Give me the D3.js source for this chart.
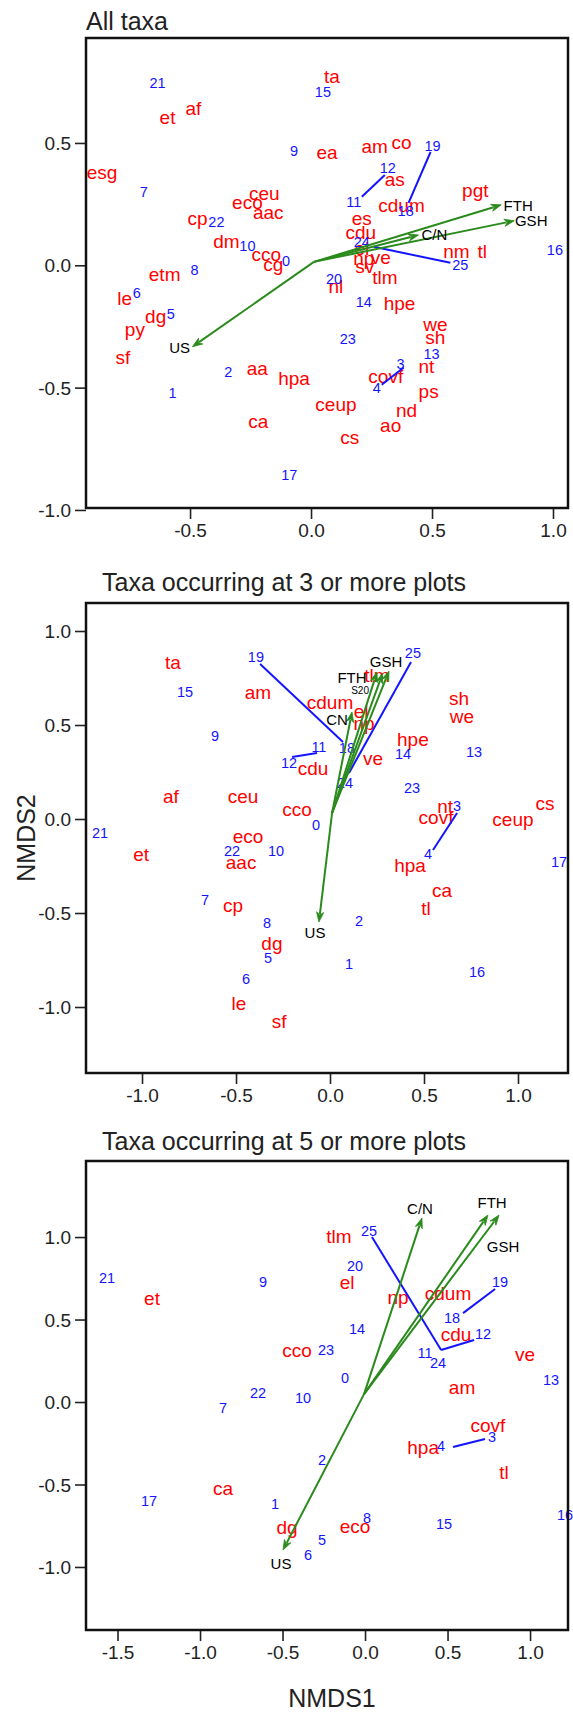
<!DOCTYPE html>
<html><head><meta charset="utf-8">
<script src="https://cdn.jsdelivr.net/npm/d3@7"></script>
<style>body{margin:0;background:#fff}svg{display:block}text{font-family:"Liberation Sans",Arial,sans-serif}</style>
</head><body><svg id="c" width="573" height="1712"></svg>
<script>
// ---------- Panel 1: All taxa ----------
const p1SpNames = ["ta","et","af","esg","ea","am","co","as","pgt","ceu","eco","aac","cp","cdum","es","cdu","dm","cco","cg","el","np","ve","sv","nm","tl","etm","nl","tlm","le","dg","py","sf","hpe","we","sh","nt","aa","hpa","covf","ps","ceup","nd","ca","ao","cs"];
const p1SpX = [0.086,-0.593,-0.486,-0.864,0.066,0.263,0.374,0.346,0.679,-0.193,-0.263,-0.177,-0.469,0.374,0.21,0.206,-0.35,-0.185,-0.156,0.21,0.218,0.288,0.222,0.601,0.708,-0.605,0.103,0.305,-0.77,-0.642,-0.728,-0.778,0.366,0.514,0.514,0.477,-0.222,-0.07,0.309,0.486,0.103,0.395,-0.218,0.329,0.16];
const p1SpY = [0.773,0.606,0.643,0.378,0.463,0.488,0.504,0.353,0.308,0.296,0.259,0.218,0.19,0.247,0.19,0.133,0.096,0.043,0.002,0.07,0.03,0.034,-0.006,0.055,0.055,-0.035,-0.087,-0.051,-0.137,-0.21,-0.263,-0.378,-0.157,-0.243,-0.296,-0.414,-0.422,-0.463,-0.455,-0.516,-0.569,-0.594,-0.639,-0.655,-0.704];
const p1SiteNames = ["21","15","9","19","12","7","11","18","22","10","0","24","8","16","25","20","6","5","14","23","13","3","2","1","4","17"];
const p1SiteX = [-0.634,0.049,-0.07,0.502,0.317,-0.691,0.177,0.391,-0.391,-0.263,-0.103,0.21,-0.481,1.008,0.617,0.095,-0.72,-0.58,0.218,0.152,0.498,0.37,-0.342,-0.572,0.272,-0.09];
const p1SiteY = [0.745,0.708,0.467,0.488,0.398,0.30,0.259,0.222,0.177,0.08,0.018,0.096,-0.018,0.063,0.002,-0.055,-0.112,-0.198,-0.149,-0.3,-0.361,-0.402,-0.435,-0.52,-0.5,-0.855];
const p1Links = [[0.21,0.28,0.305,0.369],[0.494,0.463,0.403,0.255],[0.259,0.076,0.576,0.01],[0.292,-0.488,0.383,-0.418]];
const p1VecNames = ["FTH","GSH","C/N","US"];
const p1VecX = [0.786,0.84,0.444,-0.49];
const p1VecY = [0.247,0.182,0.124,-0.333];
const p1VecLabX = [0.856,0.91,0.51,-0.543];
const p1VecLabY = [0.243,0.182,0.124,-0.337];
const p1Origin = [0.012,0.014];
const p1TicksX = [-0.5,0,0.5,1.0];
const p1TicksY = [-1.0,-0.5,0,0.5];

// ---------- Panel 2: Taxa occurring at 3 or more plots ----------
const p2SpNames = ["ta","am","cdum","tlm","el","np","sh","we","hpe","ve","cdu","af","ceu","cco","nt","covf","ceup","cs","eco","et","aac","hpa","ca","tl","cp","dg","le","sf"];
const p2SpX = [-0.835,-0.383,0.0,0.25,0.165,0.181,0.686,0.702,0.441,0.229,-0.09,-0.846,-0.463,-0.176,0.612,0.564,0.973,1.144,-0.436,-1.005,-0.473,0.426,0.596,0.511,-0.516,-0.309,-0.484,-0.271];
const p2SpY = [0.835,0.676,0.622,0.766,0.574,0.51,0.644,0.548,0.426,0.324,0.271,0.122,0.122,0.053,0.069,0.011,0.0,0.085,-0.09,-0.186,-0.229,-0.245,-0.378,-0.473,-0.457,-0.66,-0.979,-1.074];
const p2SiteNames = ["19","25","15","9","12","11","18","14","13","24","23","3","0","21","22","10","4","17","7","8","2","5","1","16","6"];
const p2SiteX = [-0.394,0.441,-0.771,-0.612,-0.218,-0.059,0.09,0.388,0.766,0.08,0.436,0.676,-0.074,-1.223,-0.521,-0.287,0.521,1.218,-0.665,-0.335,0.154,-0.33,0.101,0.782,-0.447];
const p2SiteY = [0.862,0.883,0.676,0.441,0.298,0.383,0.378,0.346,0.356,0.191,0.165,0.069,-0.032,-0.074,-0.17,-0.17,-0.186,-0.229,-0.431,-0.553,-0.543,-0.739,-0.771,-0.814,-0.851];
const p2Links = [[-0.372,0.824,0.069,0.41],[0.431,0.835,0.101,0.245],[-0.069,0.351,-0.202,0.33],[0.676,0.032,0.548,-0.165]];
const p2VecNames = ["GSH","FTH","S20","CN","US"];
const p2VecX = [0.314,0.25,0.28,0.117,-0.059];
const p2VecY = [0.787,0.782,0.775,0.569,-0.548];
const p2VecLabX = [0.298,0.117,0.16,0.037,-0.08];
const p2VecLabY = [0.835,0.75,0.681,0.527,-0.606];
const p2Origin = [0.011,0.032];
const p2TicksX = [-1.0,-0.5,0,0.5,1.0];
const p2TicksY = [-1.0,-0.5,0,0.5,1.0];

// ---------- Panel 3: Taxa occurring at 5 or more plots ----------
const p3SpNames = ["tlm","el","np","cdum","cdu","cco","ve","am","et","covf","hpa","tl","ca","dg","eco"];
const p3SpX = [-0.158,-0.109,0.2,0.503,0.552,-0.412,0.97,0.588,-1.291,0.745,0.352,0.842,-0.861,-0.473,-0.061];
const p3SpY = [1.006,0.727,0.636,0.661,0.412,0.315,0.291,0.091,0.63,-0.139,-0.273,-0.424,-0.521,-0.758,-0.752];
const p3SiteNames = ["21","9","22","7","25","20","19","18","14","12","23","11","24","0","13","10","2","4","3","17","1","8","15","16","5","6"];
const p3SiteX = [-1.564,-0.618,-0.648,-0.861,0.024,-0.061,0.818,0.527,-0.048,0.715,-0.236,0.364,0.442,-0.121,1.127,-0.376,-0.261,0.461,0.77,-1.309,-0.545,0.012,0.479,1.212,-0.261,-0.345];
const p3SiteY = [0.752,0.727,0.055,-0.036,1.036,0.824,0.727,0.509,0.442,0.412,0.315,0.297,0.236,0.145,0.133,0.024,-0.352,-0.267,-0.212,-0.6,-0.618,-0.703,-0.739,-0.685,-0.836,-0.927];
const p3Links = [[0.042,1.0,0.461,0.315],[0.788,0.685,0.594,0.539],[0.461,0.315,0.661,0.376],[0.533,-0.273,0.727,-0.224]];
const p3VecNames = ["C/N","FTH","GSH","US"];
const p3VecX = [0.345,0.745,0.812,-0.497];
const p3VecY = [1.115,1.133,1.133,-0.897];
const p3VecLabX = [0.333,0.77,0.836,-0.509];
const p3VecLabY = [1.17,1.206,0.939,-0.982];
const p3Origin = [-0.006,0.048];
const p3TicksX = [-1.5,-1.0,-0.5,0,0.5,1.0];
const p3TicksY = [-1.0,-0.5,0,0.5,1.0];

const titles = ["All taxa","Taxa occurring at 3 or more plots","Taxa occurring at 5 or more plots"];

const panels = [
  {title:titles[0], titleX:86, titleY:30, box:[86,38,568,508], xd:[-0.93,1.062], yd:[-0.992,0.929],
   sp:[p1SpNames,p1SpX,p1SpY], site:[p1SiteNames,p1SiteX,p1SiteY], links:p1Links,
   vec:[p1VecNames,p1VecX,p1VecY,p1VecLabX,p1VecLabY], origin:p1Origin, tx:p1TicksX, ty:p1TicksY},
  {title:titles[1], titleX:102, titleY:591, box:[86,603,568,1073], xd:[-1.298,1.266], yd:[-1.351,1.149],
   sp:[p2SpNames,p2SpX,p2SpY], site:[p2SiteNames,p2SiteX,p2SiteY], links:p2Links,
   vec:[p2VecNames,p2VecX,p2VecY,p2VecLabX,p2VecLabY], origin:p2Origin, tx:p2TicksX, ty:p2TicksY},
  {title:titles[2], titleX:102, titleY:1150, box:[86,1161,568,1630], xd:[-1.691,1.23], yd:[-1.382,1.461],
   sp:[p3SpNames,p3SpX,p3SpY], site:[p3SiteNames,p3SiteX,p3SiteY], links:p3Links,
   vec:[p3VecNames,p3VecX,p3VecY,p3VecLabX,p3VecLabY], origin:p3Origin, tx:p3TicksX, ty:p3TicksY}
];

const svg = d3.select("#c");
const fmt = d => d.toFixed(1);
const GREEN = "#2a8a1c";

panels.forEach(p => {
  const [L,T,R,B] = p.box;
  const x = d3.scaleLinear().domain(p.xd).range([L,R]);
  const y = d3.scaleLinear().domain(p.yd).range([B,T]);
  const g = svg.append("g");

  g.append("text").attr("x",p.titleX).attr("y",p.titleY).attr("font-size",25).attr("fill","#222").text(p.title);

  // axes
  const ax = g.append("g").attr("transform",`translate(0,${B})`)
    .call(d3.axisBottom(x).tickValues(p.tx).tickFormat(fmt).tickSizeOuter(0).tickSize(11).tickPadding(5));
  const ay = g.append("g").attr("transform",`translate(${L},0)`)
    .call(d3.axisLeft(y).tickValues(p.ty).tickFormat(fmt).tickSizeOuter(0).tickSize(11).tickPadding(4));
  [ax,ay].forEach(a=>{
    a.select(".domain").remove();
    a.selectAll("line").attr("stroke","#222").attr("stroke-width",1.6);
    a.selectAll("text").attr("font-size",19).attr("fill","#222").style("font-family",'"Liberation Sans",Arial,sans-serif');
  });
  ay.selectAll("text").attr("dy","0.35em");

  // species (red)
  const [sn,sx,sy] = p.sp;
  g.append("g").selectAll("text").data(sn).join("text")
    .attr("x",(d,i)=>x(sx[i])).attr("y",(d,i)=>y(sy[i])).attr("dy","0.35em")
    .attr("text-anchor","middle").attr("font-size",19).attr("fill","#ff0000").text(d=>d);

  // sites (blue)
  const [tn,tx,ty] = p.site;
  g.append("g").selectAll("text").data(tn).join("text")
    .attr("x",(d,i)=>x(tx[i])).attr("y",(d,i)=>y(ty[i])).attr("dy","0.35em")
    .attr("text-anchor","middle").attr("font-size",14.5).attr("fill","#1414ff").text(d=>d);

  // links
  g.append("g").selectAll("line").data(p.links).join("line")
    .attr("x1",d=>x(d[0])).attr("y1",d=>y(d[1])).attr("x2",d=>x(d[2])).attr("y2",d=>y(d[3]))
    .attr("stroke","#1414ff").attr("stroke-width",2);

  // vectors
  const [vn,vx,vy,lx,ly] = p.vec;
  const ox = x(p.origin[0]), oy = y(p.origin[1]);
  const vg = g.append("g");
  vn.forEach((n,i)=>{
    const X = x(vx[i]), Y = y(vy[i]);
    const ang = Math.atan2(Y-oy, X-ox);
    const len = 10, w = 3.6;
    const bx = X - len*Math.cos(ang), by = Y - len*Math.sin(ang);
    vg.append("line").attr("x1",ox).attr("y1",oy).attr("x2",bx+2*Math.cos(ang)).attr("y2",by+2*Math.sin(ang))
      .attr("stroke",GREEN).attr("stroke-width",2);
    const p1 = [bx - w*Math.sin(ang), by + w*Math.cos(ang)];
    const p2 = [bx + w*Math.sin(ang), by - w*Math.cos(ang)];
    vg.append("path").attr("d",`M${X},${Y}L${p1[0]},${p1[1]}L${bx+3*Math.cos(ang)},${by+3*Math.sin(ang)}L${p2[0]},${p2[1]}Z`)
      .attr("fill",GREEN).attr("stroke",GREEN).attr("stroke-width",0.8);
    vg.append("text").attr("x",x(lx[i])).attr("y",y(ly[i])).attr("dy","0.35em").attr("text-anchor","middle")
      .attr("font-size", n==="S20"?10:15).attr("fill","#000").text(n);
  });

  // box
  g.append("rect").attr("x",L).attr("y",T).attr("width",R-L).attr("height",B-T)
    .attr("fill","none").attr("stroke","#111").attr("stroke-width",2.5);
});

svg.append("text").attr("transform","translate(35,838) rotate(-90)").attr("text-anchor","middle")
  .attr("font-size",25).attr("fill","#222").text("NMDS2");
svg.append("text").attr("x",332).attr("y",1707).attr("text-anchor","middle")
  .attr("font-size",25).attr("fill","#222").text("NMDS1");
</script></body></html>
